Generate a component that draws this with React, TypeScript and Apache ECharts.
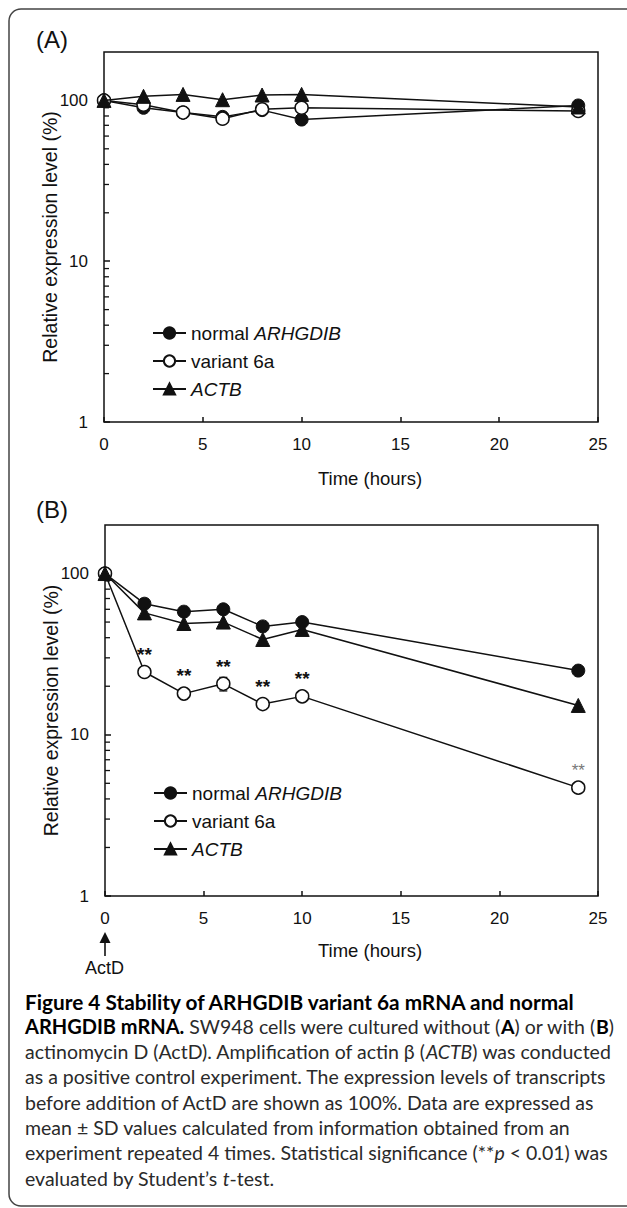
import React, { useEffect, useRef } from "react";
import * as echarts from "echarts";

// ---------- data ----------
const hours = [0, 2, 4, 6, 8, 10, 24];
const seriesNames = ["normal ARHGDIB", "variant 6a", "ACTB"];

// Panel A: without actinomycin D
const aNormal = [100, 90, 84, 79, 87, 76, 93];
const aVariant = [100, 94, 84, 77, 88, 90, 86];
const aActb = [100, 106, 109, 101, 108, 109, 91];

// Panel B: with actinomycin D
const bNormal = [100, 65, 58, 60, 47, 50, 25];
const bVariant = [100, 24.5, 18, 20.7, 15.5, 17.3, 4.7];
const bActb = [100, 57, 49, 50, 39, 45, 15.2];
const bVariantSd = [0, 1, 0.8, 2, 0.7, 0.8, 0.3];
const bVariantStars = ["", "**", "**", "**", "**", "**", "**"];

const yMajorLabels = [1, 10, 100];
const yMinorTicks = [2, 3, 4, 5, 6, 7, 8, 9, 20, 30, 40, 50, 60, 70, 80, 90];
const xTicks = { min: 0, max: 25, interval: 5 };
const yRange = { min: 1, max: 200 };

const captionLines = [
  "{h|Figure 4 Stability of ARHGDIB variant 6a mRNA and normal}",
  "{b|ARHGDIB mRNA.} SW948 cells were cultured without ({bb|A}) or with ({bb|B})",
  "actinomycin D (ActD). Amplification of actin β ({i|ACTB}) was conducted",
  "as a positive control experiment. The expression levels of transcripts",
  "before addition of ActD are shown as 100%. Data are expressed as",
  "mean ± SD values calculated from information obtained from an",
  "experiment repeated 4 times. Statistical significance (**{i|p} < 0.01) was",
  "evaluated by Student’s {i|t}-test.",
];

// ---------- styles ----------
const FONT = "'Liberation Sans', Arial, sans-serif";
const CAP_FONT = "Lato, 'Open Sans', sans-serif";
const CAP_SIZE = 19.5;
const INK = "#111";

const grids = [
  { left: 104, top: 52, width: 494, height: 370 },
  { left: 105, top: 525, width: 493, height: 371 },
];

function pairs(vals: number[]) {
  return hours.map((h, i) => [h, vals[i]]);
}

const markerStyles: any[] = [
  { symbol: "circle", size: 13, itemStyle: { color: INK, borderColor: INK, borderWidth: 1 } },
  { symbol: "circle", size: 13, itemStyle: { color: "#fff", borderColor: INK, borderWidth: 1.5 } },
  { symbol: "triangle", size: 14, itemStyle: { color: INK, borderColor: INK, borderWidth: 1 } },
];

function lineSeries(idx: number, name: number, data: any[], z: number) {
  const m = markerStyles[name];
  return {
    type: "line",
    name: seriesNames[name],
    xAxisIndex: idx,
    yAxisIndex: idx,
    data,
    symbol: m.symbol,
    symbolSize: m.size,
    showAllSymbol: true,
    itemStyle: m.itemStyle,
    lineStyle: { color: INK, width: 1.5 },
    emphasis: { disabled: true },
    z,
  };
}

function makeXAxis(gridIndex: number) {
  return {
    gridIndex,
    type: "value",
    ...xTicks,
    axisLine: { show: false },
    axisTick: { show: true, inside: true, length: 5, lineStyle: { color: INK, width: 1.5 } },
    axisLabel: { margin: 14, fontSize: 17, color: INK, fontFamily: FONT },
    splitLine: { show: false },
  };
}

function makeYAxis(gridIndex: number) {
  return {
    gridIndex,
    type: "log",
    logBase: 10,
    ...yRange,
    axisLine: { show: false },
    axisTick: { show: true, inside: true, length: 6, lineStyle: { color: INK, width: 1.5 } },
    axisLabel: {
      margin: 16,
      fontSize: 17,
      color: INK,
      fontFamily: FONT,
      showMaxLabel: false,
      formatter: (v: number) => (yMajorLabels.some((t) => Math.abs(t - v) < 1e-6) ? String(Math.round(v)) : ""),
    },
    splitLine: { show: false },
    name: "Relative expression level (%)",
    nameLocation: "middle",
    nameGap: 44,
    nameMoveOverlap: false,
    nameTextStyle: { fontSize: 19.5, color: INK, fontFamily: FONT },
  };
}

function minorTickSeries(idx: number) {
  return {
    type: "custom",
    xAxisIndex: idx,
    yAxisIndex: idx,
    silent: true,
    data: yMinorTicks.map((v) => [0, v]),
    renderItem: (params: any, api: any) => {
      const p = api.coord([0, api.value(1)]);
      return {
        type: "line",
        shape: { x1: p[0], y1: p[1], x2: p[0] + 5, y2: p[1] },
        style: { stroke: INK, lineWidth: 1.3 },
      };
    },
    z: 1,
  };
}

function errorBarSeries(idx: number, vals: number[], sds: number[]) {
  return {
    type: "custom",
    xAxisIndex: idx,
    yAxisIndex: idx,
    silent: true,
    data: hours.map((h, i) => [h, vals[i] - sds[i], vals[i] + sds[i]]),
    renderItem: (params: any, api: any) => {
      const lo = api.coord([api.value(0), api.value(1)]);
      const hi = api.coord([api.value(0), api.value(2)]);
      const w = 4;
      return {
        type: "group",
        children: [
          { type: "line", shape: { x1: lo[0], y1: lo[1], x2: hi[0], y2: hi[1] }, style: { stroke: INK, lineWidth: 1.3 } },
          { type: "line", shape: { x1: lo[0] - w, y1: lo[1], x2: lo[0] + w, y2: lo[1] }, style: { stroke: INK, lineWidth: 1.3 } },
          { type: "line", shape: { x1: hi[0] - w, y1: hi[1], x2: hi[0] + w, y2: hi[1] }, style: { stroke: INK, lineWidth: 1.3 } },
        ],
      };
    },
    z: 2,
  };
}

const legendFormatter = (name: string) => {
  if (name === "normal ARHGDIB") return "normal {i|ARHGDIB}";
  if (name === "ACTB") return "{i|ACTB}";
  return name;
};

function makeLegend(left: number, top: number) {
  return {
    orient: "vertical",
    left,
    top,
    padding: 0,
    data: seriesNames,
    itemWidth: 33,
    itemHeight: 14,
    itemGap: 8,
    selectedMode: false,
    formatter: legendFormatter,
    textStyle: {
      fontSize: 19,
      color: INK,
      fontFamily: FONT,
      lineHeight: 20,
      rich: { i: { fontStyle: "italic", fontSize: 19, color: INK, fontFamily: FONT, lineHeight: 20 } },
    },
  };
}

function textEl(text: string, x: number, y: number, size: number, extra: any = {}) {
  return {
    type: "text",
    x,
    y,
    style: {
      text,
      fontSize: size,
      fontFamily: FONT,
      fill: INK,
      textVerticalAlign: "middle",
      verticalAlign: "middle",
      ...extra,
    },
    silent: true,
  };
}

const captionStart = 1001;
const captionStep = 25.3;

const option: any = {
  animation: false,
  backgroundColor: "#fff",
  grid: grids.map((g) => ({ ...g, show: true, borderColor: INK, borderWidth: 1.5, backgroundColor: "transparent" })),
  xAxis: [makeXAxis(0), makeXAxis(1)],
  yAxis: [makeYAxis(0), makeYAxis(1)],
  legend: [makeLegend(152, 323), makeLegend(153, 783)],
  series: [
    minorTickSeries(0),
    minorTickSeries(1),
    lineSeries(0, 0, pairs(aNormal), 3),
    lineSeries(0, 1, pairs(aVariant), 4),
    lineSeries(0, 2, pairs(aActb), 5),
    errorBarSeries(1, bVariant, bVariantSd),
    lineSeries(1, 0, pairs(bNormal), 3),
    lineSeries(
      1,
      1,
      hours.map((h, i) => ({
        value: [h, bVariant[i]],
        label: bVariantStars[i]
          ? {
              show: true,
              formatter: bVariantStars[i],
              position: "top",
              distance: 1,
              fontSize: i === 6 ? 17 : 19,
              fontWeight: i === 6 ? "normal" : "bold",
              fontFamily: FONT,
              color: i === 6 ? "#777" : INK,
            }
          : { show: false },
      })),
      4
    ),
    lineSeries(1, 2, pairs(bActb), 5),
  ],
  graphic: [
    {
      type: "rect",
      shape: { x: 9, y: 9, width: 640, height: 1197, r: 12 },
      style: { fill: "none", stroke: "#444", lineWidth: 1.5 },
      silent: true,
      z: -10,
    },
    textEl("(A)", 36, 39, 24),
    textEl("(B)", 36, 509, 24),
    textEl("Time (hours)", 370, 478, 18.5, { textAlign: "center", align: "center" }),
    textEl("Time (hours)", 370, 950, 18.5, { textAlign: "center", align: "center" }),
    {
      type: "line",
      shape: { x1: 105, y1: 956, x2: 105, y2: 940 },
      style: { stroke: INK, lineWidth: 1.6 },
      silent: true,
    },
    {
      type: "polygon",
      shape: { points: [[105, 932], [99.5, 943], [110.5, 943]] },
      style: { fill: INK },
      silent: true,
    },
    textEl("ActD", 104.5, 968, 18, { textAlign: "center", align: "center" }),
    ...captionLines.map((line, k) => ({
      type: "text",
      x: 25,
      y: captionStart + k * captionStep,
      silent: true,
      style: {
        text: line,
        fontSize: CAP_SIZE,
        fontFamily: CAP_FONT,
        fill: "#2a2a2a",
        verticalAlign: "middle",
        textVerticalAlign: "middle",
        rich: {
          h: { fontWeight: "bold", fontSize: 20.8, fontFamily: CAP_FONT, fill: "#000", color: "#000" },
          b: { fontWeight: "bold", fontSize: 20, fontFamily: CAP_FONT, fill: "#000", color: "#000" },
          bb: { fontWeight: "bold", fontSize: CAP_SIZE, fontFamily: CAP_FONT, fill: "#000", color: "#000" },
          i: { fontStyle: "italic", fontSize: CAP_SIZE, fontFamily: CAP_FONT, fill: "#2a2a2a", color: "#2a2a2a" },
        },
      },
    })),
  ],
};

export default function App() {
  const ref = useRef<HTMLDivElement>(null);
  useEffect(() => {
    document.body.style.margin = "0";
    const chart = echarts.init(ref.current as HTMLDivElement, null, { renderer: "svg" });
    chart.setOption(option);
    return () => chart.dispose();
  }, []);
  return <div ref={ref} style={{ width: 627, height: 1208 }} />;
}
